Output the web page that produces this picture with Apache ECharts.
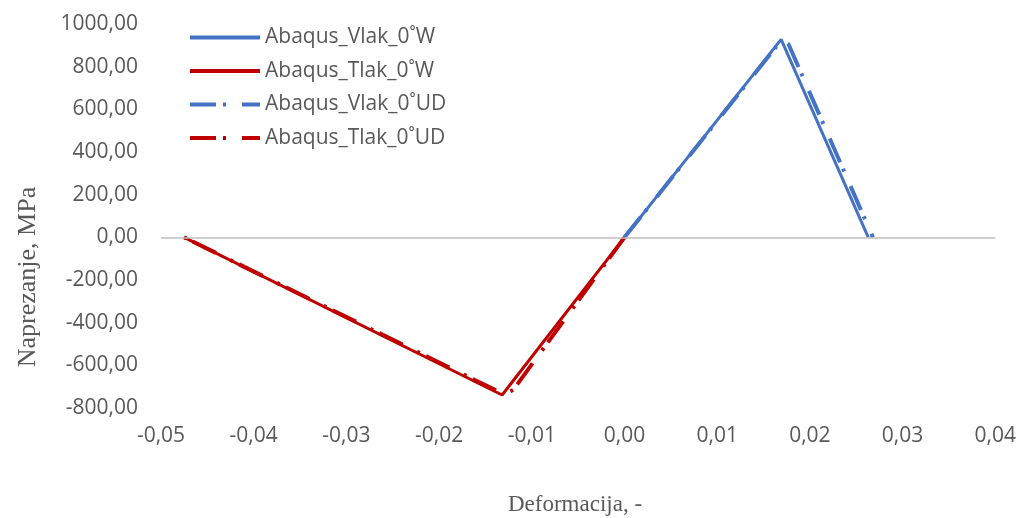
<!DOCTYPE html>
<html>
<head>
<meta charset="utf-8">
<script src="https://cdn.jsdelivr.net/npm/echarts@6/dist/echarts.min.js"></script>
<style>html,body{margin:0;padding:0;background:#fff;}#c{width:1019px;height:518px;}</style>
</head>
<body>
<div id="c"></div>
<script>
// Data
const seriesNames = ['Abaqus_Vlak_0˚W', 'Abaqus_Tlak_0˚W', 'Abaqus_Vlak_0˚UD', 'Abaqus_Tlak_0˚UD'];
const vlakW_x = [0, 0.0169, 0.0263];
const vlakW_y = [0, 928, 0];
const tlakW_x = [0, -0.0132, -0.0475];
const tlakW_y = [0, -739, 0];
const vlakUD_x = [0, 0.0170, 0.0177, 0.0268];
const vlakUD_y = [0, 928, 905, 0];
const tlakUD_x = [0, -0.0120, -0.0130, -0.0475];
const tlakUD_y = [0, -715, -736, 0];
const xTicks = [-0.05, 0.04, 0.01];
const yTicks = [-800, 1000, 200];
const xTitle = 'Deformacija, -';
const yTitle = 'Naprezanje, MPa';

const pairs = (xs, ys) => xs.map((x, i) => [x, ys[i]]);
const fmt = v => v.toFixed(2).replace('.', ',');
const blue = '#4472C4', red = '#C00000', grey = '#595959';
const udDash = [26, 7, 3, 16];

const chart = echarts.init(document.getElementById('c'));
chart.setOption({
  animation: false,
  grid: {left: 161, right: 22, top: 24, bottom: 110},
  legend: {
    data: seriesNames,
    orient: 'vertical',
    left: 188, top: 27, padding: 0,
    itemWidth: 70, itemHeight: 20, itemGap: 12.5,
    itemStyle: {opacity: 0},
    lineStyle: {width: 4},
    textStyle: {fontFamily: 'Open Sans', fontSize: 21, lineHeight: 20, color: grey}
  },
  xAxis: {
    type: 'value', min: xTicks[0], max: xTicks[1], interval: xTicks[2],
    axisLine: {show: false, onZero: false}, axisTick: {show: false}, splitLine: {show: false},
    axisLabel: {formatter: fmt, fontFamily: 'Open Sans', fontSize: 21, color: grey, margin: 18}
  },
  yAxis: {
    type: 'value', min: yTicks[0], max: yTicks[1], interval: yTicks[2],
    axisLine: {show: false, onZero: false}, axisTick: {show: false}, splitLine: {show: false},
    axisLabel: {formatter: fmt, fontFamily: 'Open Sans', fontSize: 21, color: grey, margin: 23}
  },
  graphic: [
    {type: 'text', x: 575, y: 505, style: {text: xTitle, align: 'center', verticalAlign: 'middle', font: '23px "Liberation Serif"', fill: grey}},
    {type: 'text', rotation: Math.PI / 2, x: 28, y: 277, style: {text: yTitle, align: 'center', verticalAlign: 'middle', font: '26px "Liberation Serif"', fill: grey}}
  ],
  series: [
    {name: 'axes', type: 'line', data: [], z: 1, silent: true,
     markLine: {silent: true, symbol: 'none', label: {show: false},
       lineStyle: {color: '#BFBFBF', width: 1.5, type: 'solid'},
       data: [
         [{coord: [xTicks[0], 0]}, {coord: [xTicks[1], 0]}],
         [{coord: [0, yTicks[1]]}, {coord: [0, -820]}]
       ]}},
    {name: seriesNames[0], type: 'line', data: pairs(vlakW_x, vlakW_y), showSymbol: false, symbol: 'none',
     lineStyle: {color: blue, width: 3}, itemStyle: {color: blue}, z: 3},
    {name: seriesNames[1], type: 'line', data: pairs(tlakW_x, tlakW_y), showSymbol: false, symbol: 'none',
     lineStyle: {color: red, width: 3}, itemStyle: {color: red}, z: 3},
    {name: seriesNames[2], type: 'line', data: pairs(vlakUD_x, vlakUD_y), showSymbol: false, symbol: 'none',
     lineStyle: {color: blue, width: 4, type: udDash}, itemStyle: {color: blue}, z: 4},
    {name: seriesNames[3], type: 'line', data: pairs(tlakUD_x, tlakUD_y), showSymbol: false, symbol: 'none',
     lineStyle: {color: red, width: 4, type: udDash}, itemStyle: {color: red}, z: 4}
  ]
});
</script>
</body>
</html>
